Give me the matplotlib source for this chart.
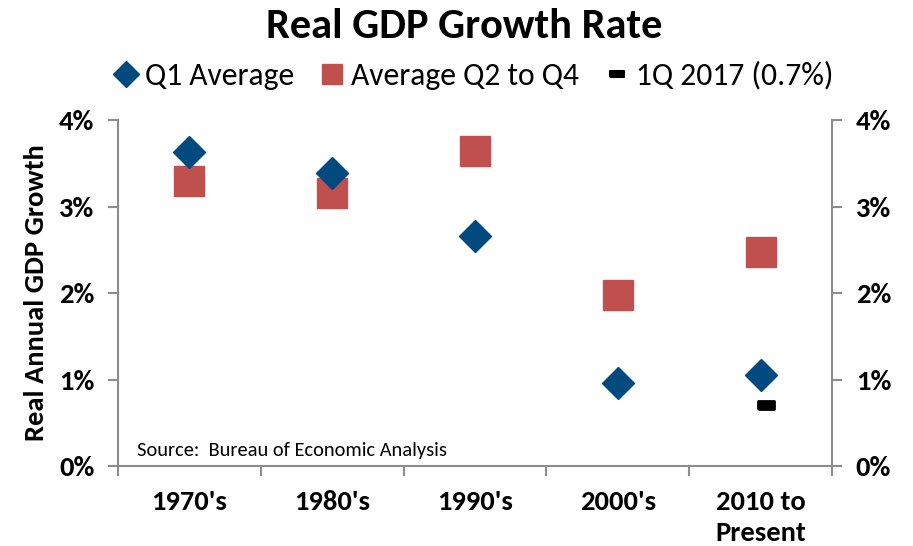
import matplotlib
matplotlib.use("Agg")
import matplotlib.pyplot as plt
from matplotlib.lines import Line2D
import numpy as np

plt.rcParams['font.family'] = ['Carlito', 'Lato', 'DejaVu Sans']

categories = ["1970's", "1980's", "1990's", "2000's", "2010 to\nPresent"]
q1_avg = [3.63, 3.39, 2.66, 0.96, 1.05]
q2_q4_avg = [3.29, 3.16, 3.64, 1.98, 2.47]
q1_2017_cat = [4]
q1_2017 = [0.70]
yticks = [0, 1, 2, 3, 4]
ytick_labels = ["0%", "1%", "2%", "3%", "4%"]

blue = "#004A80"
red = "#C0504D"
gray = "#8C8C8C"

fig = plt.figure(figsize=(9.13, 5.46), dpi=100)
ax = fig.add_axes([0.1292, 0.1465, 0.7821, 0.6337])

x = np.arange(len(categories))
ax.plot(x, q2_q4_avg, linestyle='none', marker='s', markersize=21.6, color=red, label='Average Q2 to Q4', zorder=3)
ax.plot(x, q1_avg, linestyle='none', marker='D', markersize=16.0, color=blue, label='Q1 Average', zorder=4)
rr = [(-1, -0.5), (1, -0.5), (1, 0.5), (-1, 0.5), (-1, -0.5)]
ax.plot(np.array(q1_2017_cat) + 0.04, q1_2017, linestyle='none', marker=rr, markersize=11,
        color='black', markeredgewidth=2, markeredgecolor='black', zorder=5)

ax.set_xlim(-0.5, len(categories) - 0.5)
ax.set_ylim(0, 4)
ax.set_yticks(yticks)
ax.set_yticklabels(ytick_labels, fontsize=20.5, fontweight='bold')
ax.tick_params(axis='y', which='both', left=True, right=True, labelleft=True, labelright=True,
               direction='out', length=7, color=gray, width=1.5, pad=10)

ax.set_xticks(x)
ax.set_xticklabels(categories, fontsize=20.5, fontweight='bold', linespacing=1.32)
ax.set_xticks(np.arange(len(categories) + 1) - 0.5, minor=True)
ax.tick_params(axis='x', which='major', length=0, pad=17.5)
ax.tick_params(axis='x', which='minor', length=7, color=gray, width=1.5, direction='out')

for side in ['left', 'right', 'bottom']:
    ax.spines[side].set_color(gray)
    ax.spines[side].set_linewidth(1.5)
ax.spines['top'].set_visible(False)

ax.set_ylabel("Real Annual GDP Growth", fontsize=20.5, fontweight='bold', labelpad=8)

ax.text(0.027, 0.045, "Source:  Bureau of Economic Analysis", transform=ax.transAxes,
        fontsize=14.7, ha='left', va='center')

fig.text(0.508, 0.952, "Real GDP Growth Rate", ha='center', va='center', fontsize=30.5, fontweight='bold')

handles = [
    Line2D([], [], linestyle='none', marker='D', markersize=13, color=blue),
    Line2D([], [], linestyle='none', marker='s', markersize=14, color=red),
    Line2D([], [], linestyle='none', marker=rr, markersize=9.5, color='black', markeredgewidth=1.5),
]
labels = ['Q1 Average', 'Average Q2 to Q4', '1Q 2017 (0.7%)']
fig.legend(handles, labels, loc='center', bbox_to_anchor=(0.52, 0.862), ncol=3, frameon=False,
           fontsize=22.8, handlelength=0.6, handletextpad=0.3, columnspacing=0.9,
           borderpad=0, borderaxespad=0)

fig.savefig("out.png", dpi=100)
